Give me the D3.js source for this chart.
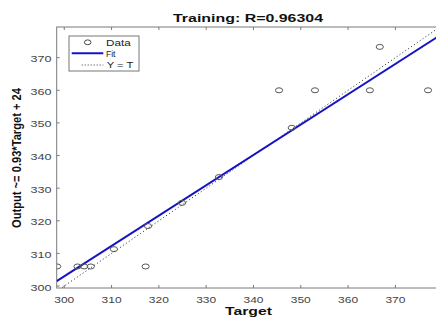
<!DOCTYPE html>
<html>
<head>
<meta charset="utf-8">
<script src="https://cdn.jsdelivr.net/npm/d3@7"></script>
<style>
  body { margin: 0; background: #fff; overflow: hidden; }
  text { font-family: "Liberation Sans", Arial, sans-serif; }
</style>
</head>
<body>
<div id="chart"></div>
<script>
// data
var targets = [298.5, 302.8, 304.2, 305.6, 310.5, 317.2, 317.7, 324.9, 332.7, 345.4, 348.1, 353.0, 364.6, 366.7, 376.9];
var outputs = [306, 306, 306, 306, 311.3, 306, 318.4, 325.5, 333.4, 360, 348.5, 360, 360, 373.3, 360];
var xTicks = [300, 310, 320, 330, 340, 350, 360, 370];
var yTicks = [300, 310, 320, 330, 340, 350, 360, 370];
var fitSlope = 0.93, fitIntercept = 24;
var legendLabels = ["Data", "Fit", "Y = T"];

var margin = { top: 27, left: 56.7 },
    plotW = 386, plotH = 261;

var svg = d3.select("#chart")
    .append("svg")
    .attr("width", 436)
    .attr("height", 318);

var x = d3.scaleLinear().domain([298.4, 380]).range([margin.left, margin.left + plotW]);
var y = d3.scaleLinear().domain([299.4, 379.4]).range([margin.top + plotH, margin.top]);

svg.append("clipPath").attr("id", "clip")
    .append("rect")
    .attr("x", margin.left).attr("y", margin.top)
    .attr("width", plotW).attr("height", plotH);

// box
svg.append("rect")
    .attr("x", margin.left).attr("y", margin.top)
    .attr("width", plotW).attr("height", plotH)
    .attr("fill", "#fff")
    .attr("stroke", "#7a7a7a")
    .attr("stroke-width", 1);

// ticks (inward) and labels
var axisColor = "#7a7a7a";
xTicks.forEach(function (t) {
    svg.append("line").attr("x1", x(t)).attr("x2", x(t))
        .attr("y1", margin.top + plotH).attr("y2", margin.top + plotH - 3)
        .attr("stroke", axisColor);
    svg.append("line").attr("x1", x(t)).attr("x2", x(t))
        .attr("y1", margin.top).attr("y2", margin.top + 3)
        .attr("stroke", axisColor);
    svg.append("text")
        .attr("x", x(t) - 10).attr("y", 302.7)
        .attr("font-size", 9.5)
        .attr("fill", "#444")
        .attr("textLength", 20)
        .attr("lengthAdjust", "spacingAndGlyphs")
        .text(t);
});
yTicks.forEach(function (t) {
    svg.append("line").attr("x1", margin.left).attr("x2", margin.left + 3)
        .attr("y1", y(t)).attr("y2", y(t))
        .attr("stroke", axisColor);
    svg.append("text")
        .attr("x", 30.5).attr("y", y(t) + 4.5)
        .attr("font-size", 9.5)
        .attr("fill", "#444")
        .attr("textLength", 21)
        .attr("lengthAdjust", "spacingAndGlyphs")
        .text(t);
});

var plot = svg.append("g").attr("clip-path", "url(#clip)");

// Y = T dotted
var dom = x.domain();
plot.append("line")
    .attr("x1", x(dom[0])).attr("y1", y(dom[0]))
    .attr("x2", x(dom[1])).attr("y2", y(dom[1]))
    .attr("stroke", "#222")
    .attr("stroke-width", 1)
    .attr("stroke-dasharray", "1,2.5");

// fit line
plot.append("line")
    .attr("x1", x(dom[0])).attr("y1", y(fitSlope * dom[0] + fitIntercept))
    .attr("x2", x(dom[1])).attr("y2", y(fitSlope * dom[1] + fitIntercept))
    .attr("stroke", "#1414c4")
    .attr("stroke-width", 2);

// data points
plot.selectAll(".dot")
    .data(targets)
    .enter()
    .append("ellipse")
    .attr("class", "dot")
    .attr("cx", function (d) { return x(d); })
    .attr("cy", function (d, i) { return y(outputs[i]); })
    .attr("rx", 3.6)
    .attr("ry", 2.5)
    .attr("fill", "none")
    .attr("stroke", "#555")
    .attr("stroke-width", 1);

// legend
var lg = svg.append("g").attr("transform", "translate(69,36)");
lg.append("rect").attr("width", 70).attr("height", 35)
    .attr("fill", "#fff").attr("stroke", "#777").attr("stroke-width", 1);
lg.append("ellipse").attr("cx", 18.7).attr("cy", 6.3).attr("rx", 3.3).attr("ry", 2.4)
    .attr("fill", "none").attr("stroke", "#444");
lg.append("line").attr("x1", 2.7).attr("x2", 34.3).attr("y1", 17.3).attr("y2", 17.3)
    .attr("stroke", "#1414c4").attr("stroke-width", 2);
lg.append("line").attr("x1", 12.7).attr("x2", 34.3).attr("y1", 29).attr("y2", 29)
    .attr("stroke", "#333").attr("stroke-width", 1).attr("stroke-dasharray", "1,2");
var legendWidths = [24.7, 9.5, 26.6];
legendLabels.forEach(function (l, i) {
    lg.append("text")
        .attr("x", i === 2 ? 37.7 : 37).attr("y", 10 + i * 11.2)
        .attr("font-size", 8.5)
        .attr("fill", "#222")
        .attr("textLength", legendWidths[i])
        .attr("lengthAdjust", "spacingAndGlyphs")
        .text(l);
});

// titles
svg.append("text")
    .attr("x", 173).attr("y", 21.7)
    .attr("font-size", 11.5)
    .attr("font-weight", "bold")
    .attr("fill", "#111")
    .attr("textLength", 150)
    .attr("lengthAdjust", "spacingAndGlyphs")
    .text("Training: R=0.96304");

svg.append("text")
    .attr("x", 225).attr("y", 315)
    .attr("font-size", 10.5)
    .attr("font-weight", "bold")
    .attr("fill", "#111")
    .attr("textLength", 47)
    .attr("lengthAdjust", "spacingAndGlyphs")
    .text("Target");

svg.append("text")
    .attr("transform", "translate(21,158) rotate(-90)")
    .attr("text-anchor", "middle")
    .attr("font-size", 13)
    .attr("font-weight", "bold")
    .attr("fill", "#111")
    .attr("textLength", 140)
    .attr("lengthAdjust", "spacingAndGlyphs")
    .text("Output ~= 0.93*Target + 24");
</script>
</body>
</html>
